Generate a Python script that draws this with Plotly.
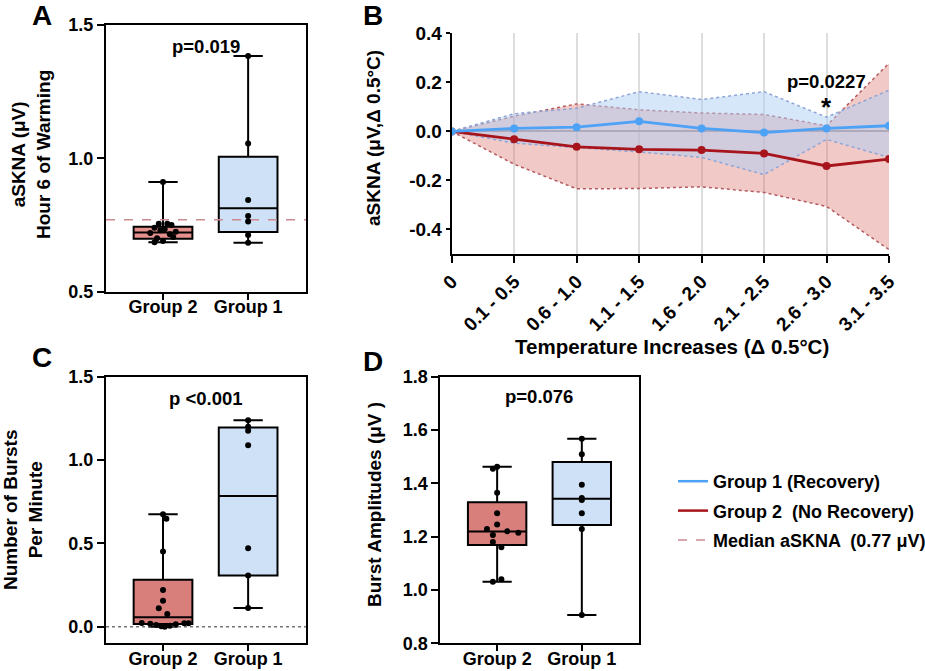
import plotly.graph_objects as go

# ---------------- DATA ----------------
GROUPS = ["Group 2", "Group 1"]          # order on the x axis of box panels

# Panel A: aSKNA at hour 6 of warming (µV)
A_Q1 = [0.699, 0.724]
A_MEDIAN = [0.722, 0.8125]
A_Q3 = [0.744, 1.006]
A_MIN = [0.685, 0.684]
A_MAX = [0.911, 1.384]
A_G2_POINTS = [0.911, 0.755, 0.755, 0.75, 0.74, 0.735, 0.73, 0.725, 0.72, 0.715, 0.705, 0.70, 0.69, 0.685]
A_G1_POINTS = [1.384, 1.056, 0.844, 0.784, 0.763, 0.713, 0.684]
MEDIAN_ASKNA = 0.77
A_PVALUE = "p=0.019"

# Panel B: aSKNA change per temperature increase
TEMP_BINS = ["0", "0.1 - 0.5", "0.6 - 1.0", "1.1 - 1.5", "1.6 - 2.0", "2.1 - 2.5", "2.6 - 3.0", "3.1 - 3.5"]
G1_MEAN = [0.0, 0.012, 0.017, 0.041, 0.012, -0.005, 0.012, 0.023]
G1_UPPER = [0.0, 0.072, 0.094, 0.162, 0.13, 0.162, 0.058, 0.168]
G1_LOWER = [0.0, -0.048, -0.066, -0.084, -0.106, -0.176, -0.033, -0.106]
G2_MEAN = [0.0, -0.032, -0.063, -0.073, -0.076, -0.09, -0.141, -0.113]
G2_UPPER = [0.0, 0.062, 0.112, 0.088, 0.075, 0.069, 0.023, 0.278]
G2_LOWER = [0.0, -0.134, -0.234, -0.233, -0.226, -0.249, -0.306, -0.482]
B_PVALUE = "p=0.0227"
B_SIG_BIN = 6   # index of "2.6 - 3.0"

# Panel C: number of bursts per minute
C_Q1 = [0.016, 0.307]
C_MEDIAN = [0.056, 0.784]
C_Q3 = [0.281, 1.195]
C_MIN = [0.0, 0.112]
C_MAX = [0.674, 1.239]
C_G2_POINTS = [0.674, 0.648, 0.451, 0.22, 0.156, 0.11, 0.076, 0.022, 0.02, 0.018, 0.015, 0.01, 0.006, 0.003, 0.0, 0.02]
C_G1_POINTS = [1.239, 1.2, 1.175, 1.089, 0.471, 0.307, 0.112]
C_PVALUE = "p <0.001"

# Panel D: burst amplitudes (µV)
D_Q1 = [1.169, 1.244]
D_MEDIAN = [1.219, 1.3425]
D_Q3 = [1.329, 1.48]
D_MIN = [1.031, 0.906]
D_MAX = [1.4625, 1.5675]
D_G2_POINTS = [1.4625, 1.455, 1.365, 1.2875, 1.246, 1.229, 1.22, 1.215, 1.206, 1.18, 1.16, 1.04, 1.031]
D_G1_POINTS = [1.5675, 1.509, 1.395, 1.345, 1.3375, 1.2875, 1.229, 0.906]
D_PVALUE = "p=0.076"

# small horizontal offsets of the scatter dots (layout only)
A_G2_JIT = [0.0, -0.05, 0.05, 0.1, -0.1, 0.02, -0.03, 0.15, -0.15, 0.08, 0.12, -0.07, 0.0, -0.1]
A_G1_JIT = [0.0, 0.0, 0.0, 0.0, 0.0, 0.0, 0.0]
C_G2_JIT = [0.0, 0.04, 0.0, 0.0, 0.0, -0.05, 0.05, -0.25, 0.25, -0.15, 0.15, -0.08, 0.08, -0.02, 0.02, 0.3]
C_G1_JIT = [0.0, 0.0, 0.0, 0.0, 0.0, 0.0, 0.0]
D_G2_JIT = [0.0, -0.05, 0.0, 0.0, 0.0, -0.12, 0.12, 0.25, -0.05, -0.05, 0.05, 0.05, -0.05]
D_G1_JIT = [0.0, 0.0, 0.0, 0.0, 0.0, 0.0, 0.0, 0.0]

# ---------------- STYLE ----------------
W, H = 925, 671
FONT = "Arial, Liberation Sans, sans-serif"
RED_FILL = "#d97f7b"
RED_FILL_A = "#e6908d"
BLUE_FILL = "#cfe1f7"
BLUE_LINE = "#4ea2f5"
RED_LINE = "#a8141b"
MEDIAN_COLOR = "#cc8a90"


def px(x):
    return x / W


def py(y):
    return 1 - y / H


fig = go.Figure()


def box_panel(xa, ya, q1, med, q3, lo, hi, pts, jits, fills):
    for i in range(2):
        fig.add_trace(go.Box(
            x=[i], q1=[q1[i]], median=[med[i]], q3=[q3[i]],
            lowerfence=[lo[i]], upperfence=[hi[i]],
            width=0.69, whiskerwidth=0.5, fillcolor=fills[i],
            line=dict(color="black", width=2), boxpoints=False,
            showlegend=False, hoverinfo="skip", xaxis=xa, yaxis=ya))
        fig.add_trace(go.Scatter(
            x=[i + j for j in jits[i]], y=pts[i], mode="markers",
            marker=dict(color="black", size=6), showlegend=False,
            hoverinfo="skip", xaxis=xa, yaxis=ya))


# Panel A
fig.add_trace(go.Scatter(x=[-0.67, 1.68], y=[MEDIAN_ASKNA, MEDIAN_ASKNA], mode="lines",
                         line=dict(color=MEDIAN_COLOR, width=1.5, dash="dash"),
                         showlegend=False, xaxis="x", yaxis="y", hoverinfo="skip"))
box_panel("x", "y", A_Q1, A_MEDIAN, A_Q3, A_MIN, A_MAX,
          [A_G2_POINTS, A_G1_POINTS], [A_G2_JIT, A_G1_JIT], [RED_FILL_A, BLUE_FILL])

# Panel C
fig.add_trace(go.Scatter(x=[-0.67, 1.68], y=[0, 0], mode="lines",
                         line=dict(color="#777777", width=1.5, dash="dot"),
                         showlegend=False, xaxis="x3", yaxis="y3", hoverinfo="skip"))
box_panel("x3", "y3", C_Q1, C_MEDIAN, C_Q3, C_MIN, C_MAX,
          [C_G2_POINTS, C_G1_POINTS], [C_G2_JIT, C_G1_JIT], [RED_FILL, BLUE_FILL])

# Panel D
box_panel("x4", "y4", D_Q1, D_MEDIAN, D_Q3, D_MIN, D_MAX,
          [D_G2_POINTS, D_G1_POINTS], [D_G2_JIT, D_G1_JIT], [RED_FILL, BLUE_FILL])

# Panel B bands
fig.add_trace(go.Scatter(x=TEMP_BINS, y=G2_UPPER, mode="lines",
                         line=dict(color="#b45a5e", width=1.5, dash="dot"),
                         showlegend=False, xaxis="x2", yaxis="y2", hoverinfo="skip"))
fig.add_trace(go.Scatter(x=TEMP_BINS, y=G2_LOWER, mode="lines", fill="tonexty",
                         fillcolor="rgba(220,120,115,0.40)",
                         line=dict(color="#b45a5e", width=1.5, dash="dot"),
                         showlegend=False, xaxis="x2", yaxis="y2", hoverinfo="skip"))
fig.add_trace(go.Scatter(x=TEMP_BINS, y=G1_UPPER, mode="lines",
                         line=dict(color="#8fa5d6", width=1.5, dash="dot"),
                         showlegend=False, xaxis="x2", yaxis="y2", hoverinfo="skip"))
fig.add_trace(go.Scatter(x=TEMP_BINS, y=G1_LOWER, mode="lines", fill="tonexty",
                         fillcolor="rgba(175,208,245,0.50)",
                         line=dict(color="#8fa5d6", width=1.5, dash="dot"),
                         showlegend=False, xaxis="x2", yaxis="y2", hoverinfo="skip"))
fig.add_trace(go.Scatter(x=TEMP_BINS, y=G2_MEAN, mode="lines+markers",
                         line=dict(color=RED_LINE, width=2.8),
                         marker=dict(color=RED_LINE, size=8),
                         showlegend=False, xaxis="x2", yaxis="y2", hoverinfo="skip"))
fig.add_trace(go.Scatter(x=TEMP_BINS, y=G1_MEAN, mode="lines+markers",
                         line=dict(color=BLUE_LINE, width=2.8),
                         marker=dict(color=BLUE_LINE, size=8),
                         showlegend=False, xaxis="x2", yaxis="y2", hoverinfo="skip"))

# legend entries (line keys only, as in the reference)
LEGEND_ITEMS = [("Group 1 (Recovery)", BLUE_LINE, "solid", 2.5),
                ("Group 2  (No Recovery)", RED_LINE, "solid", 2.5),
                ("Median aSKNA  (0.77 μV)", MEDIAN_COLOR, "dash", 1.5)]
for k, (name, col, dash, lw) in enumerate(LEGEND_ITEMS):
    fig.add_trace(go.Scatter(x=[None], y=[None], mode="lines", name=name,
                             legendgroup=f"g{k}", legendrank=k + 1,
                             line=dict(color=col, width=lw, dash=dash),
                             xaxis="x2", yaxis="y2", hoverinfo="skip"))


def tf(size):
    return dict(family=FONT, size=size, color="black", weight="bold")


box_x = dict(range=[-0.67, 1.68], tickvals=[0, 1], ticktext=GROUPS, showline=True,
             mirror=True, linecolor="black", linewidth=2, ticks="outside", ticklen=6,
             tickwidth=2, tickcolor="black", showgrid=False, zeroline=False,
             tickfont=tf(18), ticklabelstandoff=-8, automargin=False)


def box_y(rng, vals):
    return dict(range=rng, tickvals=vals, ticktext=[f"{v:.1f}" for v in vals],
                showline=True, mirror=True, linecolor="black", linewidth=2,
                ticks="outside", ticklen=7, tickwidth=2, tickcolor="black",
                showgrid=False, zeroline=False, tickfont=tf(18), automargin=False)


B_TICKS = [-0.4, -0.2, 0.0, 0.2, 0.4]

fig.update_layout(
    width=W, height=H, margin=dict(l=0, r=0, t=0, b=0, autoexpand=False),
    paper_bgcolor="white", plot_bgcolor="white",
    font=tf(18),
    xaxis=dict(box_x, domain=[px(106), px(306)], anchor="y"),
    yaxis=dict(box_y([0.5, 1.5], [0.5, 1.0, 1.5]), domain=[py(291.7), py(25)], anchor="x"),
    xaxis3=dict(box_x, domain=[px(106), px(306)], anchor="y3"),
    yaxis3=dict(box_y([-0.1, 1.5], [0.0, 0.5, 1.0, 1.5]), domain=[py(643.3), py(376.7)], anchor="x3"),
    xaxis4=dict(box_x, domain=[px(440.4), px(639.4)], anchor="y4"),
    yaxis4=dict(box_y([0.8, 1.8], [0.8, 1.0, 1.2, 1.4, 1.6, 1.8]), domain=[py(643.3), py(376.7)], anchor="x4"),
    xaxis2=dict(type="category", categoryorder="array", categoryarray=TEMP_BINS,
                range=[0, 7], domain=[px(451.7), px(889)], anchor="y2",
                showline=True, linecolor="black", linewidth=2, ticks="outside",
                ticklen=7, tickwidth=2, tickcolor="black", tickangle=-45,
                showgrid=True, gridcolor="#dddddd", gridwidth=1.5, zeroline=False,
                tickfont=tf(19), automargin=False),
    yaxis2=dict(range=[-0.5, 0.4], domain=[py(254), py(33.3)], anchor="x2",
                tickvals=B_TICKS, ticktext=[f"{v:.1f}" for v in B_TICKS],
                showline=True, linecolor="black", linewidth=2, ticks="outside",
                ticklen=4, tickwidth=2, tickcolor="black", showgrid=False,
                zeroline=True, zerolinecolor="#8c8c8c", zerolinewidth=2,
                tickfont=tf(19), automargin=False),
    legend=dict(x=px(673), y=py(463), xanchor="left", yanchor="top",
                traceorder="grouped", font=tf(18),
                bgcolor="rgba(0,0,0,0)", tracegroupgap=3, itemwidth=30),
    showlegend=True,
)


def ann(text, x, y, size=19, angle=0, xref="paper", yref="paper"):
    fig.add_annotation(text=text, x=x, y=y, xref=xref, yref=yref, showarrow=False,
                       textangle=angle, xanchor="center", yanchor="middle",
                       font=tf(size))


# panel letters
ann("A", px(42), py(16), size=28)
ann("B", px(373), py(16), size=28)
ann("C", px(42), py(357), size=28)
ann("D", px(373), py(361), size=28)

# axis titles
ann("aSKNA (μV)<br>Hour 6 of Warming", px(31), py(155), angle=-90)
ann("aSKNA (μV,Δ 0.5°C)", px(373), py(138), angle=-90)
ann("Temperature Increases (Δ 0.5°C)", px(672), py(346), size=20.5)
ann("Number of Bursts<br>Per Minute", px(23), py(510), angle=-90)
ann("Burst Amplitudes (μV )", px(374), py(505), angle=-90)

# p-values
ann(A_PVALUE, 0.5, 1.419, size=18.5, xref="x", yref="y")
ann(C_PVALUE, 0.5, 1.37, size=18.5, xref="x3", yref="y3")
ann(D_PVALUE, 0.5, 1.725, size=18.5, xref="x4", yref="y4")
ann(B_PVALUE, B_SIG_BIN, 0.203, size=18.5, xref="x2", yref="y2")
ann("*", B_SIG_BIN, 0.10, size=26, xref="x2", yref="y2")

fig.write_html("out.html", config={"displayModeBar": False},
               post_script="document.body.style.margin='0';document.body.style.overflow='hidden';")
